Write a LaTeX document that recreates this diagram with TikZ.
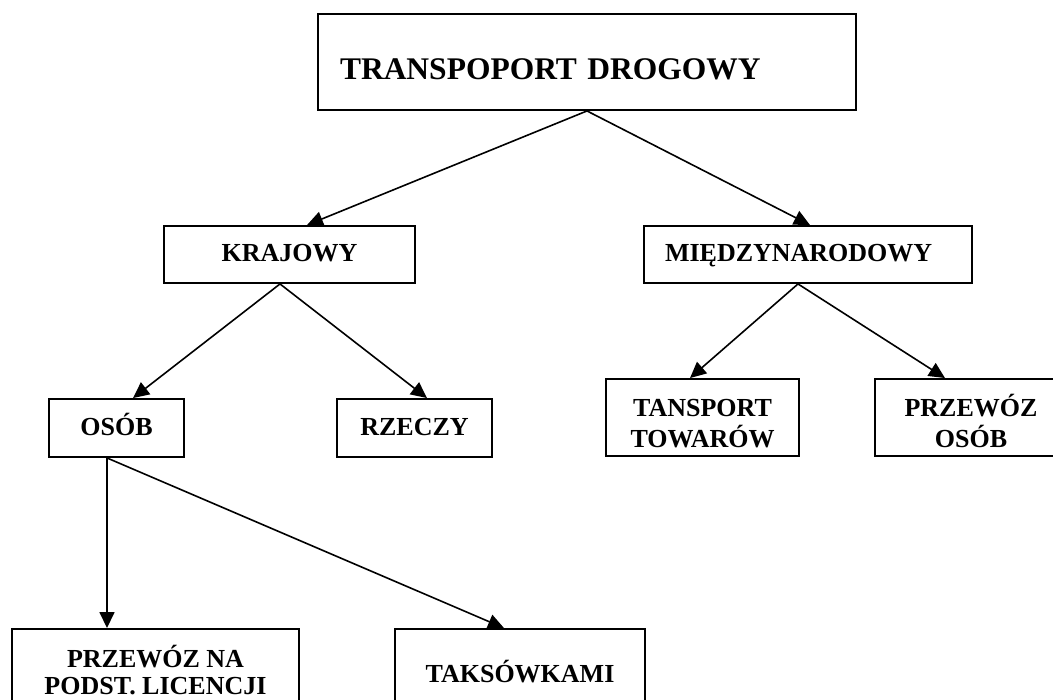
\documentclass[tikz,border=0pt]{standalone}
\usepackage{fontspec}
\setmainfont{Liberation Serif}
\usetikzlibrary{arrows.meta, positioning}

\tikzset{
  box/.style={draw, line width=1.9pt, align=center, inner sep=0pt, font=\bfseries\fontsize{26}{31}\selectfont},
  single/.style={text height=17pt, text depth=2pt},
  link/.style={line width=1.6pt, -{Triangle[length=16pt, width=15pt]}}
}

\begin{document}
\begin{tikzpicture}[x=1pt, y=-1pt]
  \useasboundingbox (0,0) rectangle (1053,700);
  \clip (0,0) rectangle (1053,700);

  % root
  \node[box, minimum width=538pt, minimum height=96pt, text width=494pt, align=left, font=\bfseries\fontsize{31.5}{38}\selectfont, text height=40pt, text depth=4pt] (drog) at (587,62) {TRANSPOPORT DROGOWY};

  % second level
  \node[box, single, minimum width=251pt, minimum height=57pt] (kraj) at (289.5,254.5) {KRAJOWY};
  \node[box, single, minimum width=328pt, minimum height=57pt, text width=286pt, align=left] (mied) at (808,254.5) {MIĘDZYNARODOWY};

  % third level
  \node[box, single, minimum width=135pt, minimum height=58pt] (osob) at (116.5,428) {OSÓB};
  \node[box, single, minimum width=155pt, minimum height=58pt] (rzec) at (414.5,428) {RZECZY};
  \node[box, minimum width=193pt, minimum height=77pt] (tow) at (702.5,417.5) {\rule{0pt}{30pt}TANSPORT\\TOWARÓW};
  \node[box, minimum width=192pt, minimum height=77pt] (przos) at (971,417.5) {\rule{0pt}{30pt}PRZEWÓZ\\OSÓB};

  % bottom level
  \node[box, minimum width=287pt, minimum height=90pt, font=\bfseries\fontsize{26}{27}\selectfont] (lic) at (155.5,674) {\rule{0pt}{30pt}PRZEWÓZ NA\\PODST. LICENCJI\rule[-16pt]{0pt}{0pt}};
  \node[box, minimum width=250pt, minimum height=90pt, text height=20pt, text depth=4pt] (taks) at (520,674) {TAKSÓWKAMI};

  % connectors
  \draw[link] (drog.south) -- ([xshift=17.5pt]kraj.north);
  \draw[link] (drog.south) -- ([xshift=2pt]mied.north);
  \draw[link] ([xshift=-9.5pt]kraj.south) -- ([xshift=16.5pt]osob.north);
  \draw[link] ([xshift=-9.5pt]kraj.south) -- ([xshift=12.5pt]rzec.north);
  \draw[link] ([xshift=-10pt]mied.south) -- ([xshift=-12.5pt]tow.north);
  \draw[link] ([xshift=-10pt]mied.south) -- ([xshift=-26pt]przos.north);
  \draw[link] ([xshift=-9.5pt]osob.south) -- ([xshift=-48.5pt]lic.north);
  \draw[link] ([xshift=-9.5pt]osob.south) -- ([xshift=-16pt]taks.north);
\end{tikzpicture}
\end{document}
